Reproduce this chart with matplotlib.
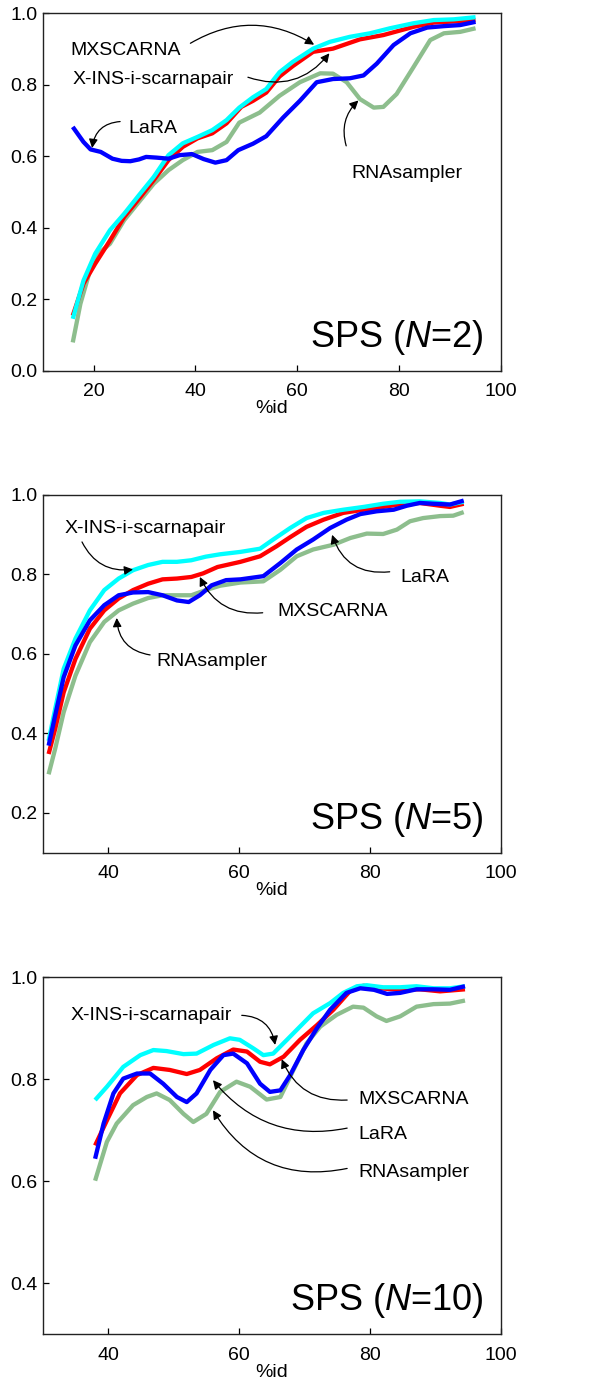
import matplotlib
matplotlib.use("Agg")
import matplotlib.pyplot as plt

plt.rcParams['font.family'] = ['Liberation Sans', 'DejaVu Sans']
plt.rcParams['mathtext.fontset'] = 'custom'
plt.rcParams['mathtext.rm'] = 'Liberation Sans'
plt.rcParams['mathtext.it'] = 'Liberation Sans:italic'

# colours of the four methods
C_XINS = '#00FFFF'
C_MX = '#FF0000'
C_LARA = '#0000FF'
C_RNAS = '#8DBE8D'

# ---- N=2 ----
n2_xins_x = [15.9, 18.0, 20.3, 23.2, 26.0, 28.9, 31.8, 34.7, 37.5, 40.4, 43.3, 46.1, 48.6, 51.3, 53.9, 56.5, 59.1, 63.1, 66.4, 70.3, 74.3, 78.2, 82.8, 86.8, 90.7, 95.0]
n2_xins_y = [.145, .252, .327, .393, .439, .491, .542, .603, .636, .654, .673, .701, .736, .765, .788, .835, .864, .901, .920, .934, .944, .958, .972, .981, .983, .989]
n2_mx_x = [15.9, 18.0, 20.3, 23.2, 26.0, 28.9, 31.8, 34.7, 37.5, 40.4, 43.3, 46.1, 49.0, 51.3, 53.9, 56.5, 59.1, 63.1, 67.0, 72.3, 76.9, 82.8, 86.8, 90.7, 95.0]
n2_mx_y = [.154, .243, .299, .364, .430, .481, .533, .589, .626, .650, .664, .692, .738, .755, .778, .823, .852, .892, .901, .927, .939, .962, .974, .977, .981]
n2_lara_x = [15.9, 18.0, 19.4, 21.4, 23.7, 25.5, 27.2, 28.9, 30.3, 32.4, 34.7, 36.9, 39.3, 41.6, 43.9, 46.1, 48.4, 51.3, 53.9, 57.2, 60.5, 63.8, 67.0, 70.3, 73.0, 75.6, 78.9, 82.2, 85.5, 88.8, 92.0, 95.0]
n2_lara_y = [.682, .640, .619, .612, .593, .587, .586, .591, .598, .596, .593, .603, .606, .592, .582, .589, .617, .635, .656, .708, .755, .807, .816, .818, .826, .859, .911, .944, .960, .964, .967, .976]
n2_rnas_x = [15.9, 17.4, 19.1, 20.9, 23.2, 26.0, 28.9, 31.8, 34.7, 37.5, 40.4, 43.3, 46.1, 48.6, 52.6, 56.5, 60.5, 64.5, 67.0, 69.7, 72.3, 75.0, 76.9, 79.5, 82.8, 86.1, 88.8, 92.0, 95.0]
n2_rnas_y = [.079, .187, .271, .327, .355, .421, .472, .523, .561, .589, .612, .617, .640, .694, .722, .769, .807, .832, .831, .807, .760, .736, .738, .774, .849, .925, .944, .948, .958]

# ---- N=5 ----
n5_xins_x = [30.9, 31.9, 33.2, 35.0, 37.2, 39.4, 41.6, 43.8, 46.1, 48.3, 50.5, 52.7, 54.9, 57.1, 60.2, 63.2, 65.2, 67.8, 70.3, 72.9, 75.9, 79.0, 82.0, 84.6, 87.6, 90.7, 92.2, 94.3]
n5_xins_y = [.381, .461, .562, .638, .709, .760, .789, .810, .823, .831, .831, .835, .844, .850, .856, .864, .887, .916, .941, .954, .962, .969, .977, .982, .983, .979, .975, .982]
n5_mx_x = [30.9, 31.9, 33.2, 35.0, 37.2, 39.4, 41.6, 43.8, 46.1, 48.3, 50.5, 52.7, 54.5, 56.7, 60.2, 63.2, 65.7, 67.8, 70.3, 72.9, 75.9, 79.0, 82.0, 85.1, 87.6, 90.7, 92.2, 94.3]
n5_mx_y = [.348, .411, .503, .587, .663, .709, .739, .760, .776, .787, .789, .793, .802, .818, .831, .845, .870, .893, .919, .937, .954, .962, .969, .977, .979, .972, .969, .977]
n5_lara_x = [30.9, 31.9, 33.2, 35.0, 37.2, 39.4, 41.6, 43.8, 46.1, 48.3, 50.5, 52.3, 54.0, 55.8, 58.0, 60.2, 63.7, 66.3, 68.8, 71.3, 73.9, 76.4, 78.5, 81.0, 83.6, 85.6, 87.6, 89.7, 92.2, 94.3]
n5_lara_y = [.369, .445, .541, .621, .684, .722, .747, .754, .755, .747, .734, .730, .747, .772, .785, .787, .795, .828, .862, .887, .916, .937, .951, .958, .962, .972, .979, .977, .975, .985]
n5_rnas_x = [30.9, 31.9, 33.2, 35.0, 37.2, 39.4, 41.6, 43.8, 46.1, 48.3, 50.5, 52.7, 54.9, 57.1, 60.2, 63.7, 66.3, 68.8, 71.3, 74.4, 77.0, 79.5, 82.0, 84.1, 86.1, 88.1, 90.7, 92.7, 94.3]
n5_rnas_y = [.297, .361, .453, .545, .629, .680, .709, .726, .740, .747, .747, .747, .760, .771, .779, .782, .811, .845, .862, .874, .891, .902, .901, .912, .933, .941, .946, .947, .956]

# ---- N=10 ----
n10_xins_x = [38.0, 39.8, 42.3, 44.9, 46.9, 48.9, 51.5, 53.5, 56.1, 58.6, 60.1, 62.2, 63.7, 65.2, 67.3, 69.3, 71.3, 73.9, 75.9, 78.0, 79.5, 82.0, 84.6, 87.1, 89.7, 92.2, 94.5]
n10_xins_y = [.759, .785, .824, .847, .857, .855, .849, .850, .867, .880, .877, .860, .847, .850, .877, .903, .929, .949, .969, .982, .984, .980, .980, .982, .978, .978, .982]
n10_mx_x = [38.0, 39.8, 41.8, 44.4, 46.9, 49.4, 52.0, 54.0, 56.6, 59.1, 61.2, 63.2, 64.7, 66.8, 69.3, 71.9, 74.4, 76.9, 79.0, 81.5, 84.6, 87.6, 90.7, 94.5]
n10_mx_y = [.670, .719, .772, .808, .822, .818, .810, .818, .841, .858, .854, .834, .829, .844, .877, .906, .936, .972, .983, .978, .975, .976, .972, .976]
n10_lara_x = [38.0, 39.3, 40.8, 42.3, 44.4, 46.4, 48.4, 50.5, 52.0, 53.5, 55.6, 57.6, 59.1, 61.2, 63.2, 64.7, 66.3, 67.8, 69.8, 71.9, 73.9, 76.4, 78.5, 80.6, 82.6, 84.6, 87.1, 89.7, 92.2, 94.5]
n10_lara_y = [.644, .713, .772, .801, .811, .811, .791, .765, .755, .772, .818, .847, .850, .831, .791, .775, .778, .808, .857, .900, .936, .969, .978, .975, .967, .969, .976, .976, .975, .982]
n10_rnas_x = [38.0, 39.8, 41.3, 43.8, 45.9, 47.4, 49.4, 51.5, 53.0, 55.0, 57.1, 59.6, 61.7, 64.2, 66.3, 68.3, 70.3, 72.4, 74.9, 77.4, 79.0, 81.0, 82.5, 84.6, 87.1, 89.7, 92.2, 94.5]
n10_rnas_y = [.601, .677, .713, .749, .765, .772, .759, .732, .716, .732, .775, .795, .785, .760, .765, .818, .870, .903, .926, .942, .940, .923, .914, .923, .942, .947, .948, .954]


def style_axes(ax, xlim, ylim, xticks, yticks):
    ax.set_xlim(*xlim)
    ax.set_ylim(*ylim)
    ax.set_xticks(xticks)
    ax.set_yticks(yticks)
    ax.set_xticklabels([str(t) for t in xticks])
    ax.set_yticklabels(['%.1f' % t for t in yticks])
    ax.tick_params(direction='in', length=4, width=0.9, top=False, right=False, labelsize=14)
    ax.tick_params(axis='x', pad=9)
    ax.tick_params(axis='y', pad=4)
    for s in ax.spines.values():
        s.set_linewidth(1.0)
        s.set_color('#222222')
    ax.set_xlabel('%id', fontsize=14, labelpad=0)


def draw_lines(ax, xins, mx, lara, rnas):
    # green at the back, blue on top
    kw = dict(lw=3.1, solid_capstyle='butt', solid_joinstyle='round')
    ax.plot(rnas[0], rnas[1], color=C_RNAS, **kw)
    ax.plot(mx[0], mx[1], color=C_MX, **kw)
    ax.plot(xins[0], xins[1], color=C_XINS, **kw)
    ax.plot(lara[0], lara[1], color=C_LARA, **kw)


def label(ax, text, pos, start, tip, rad):
    ax.text(pos[0], pos[1], text, fontsize=14, ha='left', va='baseline')
    ax.annotate('', xy=tip, xytext=start,
                arrowprops=dict(arrowstyle='-|>', color='black', lw=0.9, mutation_scale=13,
                                shrinkA=0, shrinkB=0, connectionstyle='arc3,rad=%s' % rad))


def panel_tag(ax, n):
    ax.text(0.961, 0.067, r'SPS ($N$=%d)' % n, transform=ax.transAxes,
            fontsize=26, ha='right', va='baseline')


def main():
    fig = plt.figure(figsize=(6, 13.96), dpi=100)
    ax1 = fig.add_axes([0.0712, 0.7345, 0.7638, 0.2560])
    ax2 = fig.add_axes([0.0712, 0.3892, 0.7638, 0.2565])
    ax3 = fig.add_axes([0.0712, 0.0442, 0.7638, 0.2559])

    # N=2
    draw_lines(ax1, (n2_xins_x, n2_xins_y), (n2_mx_x, n2_mx_y), (n2_lara_x, n2_lara_y), (n2_rnas_x, n2_rnas_y))
    style_axes(ax1, (10, 100), (0, 1.0), [20, 40, 60, 80, 100], [0.0, 0.2, 0.4, 0.6, 0.8, 1.0])
    label(ax1, 'MXSCARNA', (15.4, 0.883), (39.0, 0.916), (63.3, 0.912), -0.3)
    label(ax1, 'X-INS-i-scarnapair', (15.8, 0.803), (50.3, 0.821), (66.3, 0.888), 0.35)
    label(ax1, 'LaRA', (26.8, 0.666), (25.2, 0.697), (19.7, 0.623), 0.4)
    label(ax1, 'RNAsampler', (70.6, 0.540), (69.6, 0.629), (72.0, 0.756), -0.3)
    panel_tag(ax1, 2)

    # N=5
    draw_lines(ax2, (n5_xins_x, n5_xins_y), (n5_mx_x, n5_mx_y), (n5_lara_x, n5_lara_y), (n5_rnas_x, n5_rnas_y))
    style_axes(ax2, (30, 100), (0.1, 1.0), [40, 60, 80, 100], [0.2, 0.4, 0.6, 0.8, 1.0])
    label(ax2, 'X-INS-i-scarnapair', (33.4, 0.903), (36.0, 0.881), (43.8, 0.812), 0.35)
    label(ax2, 'MXSCARNA', (65.8, 0.694), (63.6, 0.703), (54.0, 0.793), -0.35)
    label(ax2, 'LaRA', (84.6, 0.781), (83.0, 0.806), (74.2, 0.899), -0.4)
    label(ax2, 'RNAsampler', (47.4, 0.570), (46.4, 0.597), (41.3, 0.690), -0.4)
    panel_tag(ax2, 5)

    # N=10
    draw_lines(ax3, (n10_xins_x, n10_xins_y), (n10_mx_x, n10_mx_y), (n10_lara_x, n10_lara_y), (n10_rnas_x, n10_rnas_y))
    style_axes(ax3, (30, 100), (0.3, 1.0), [40, 60, 80, 100], [0.4, 0.6, 0.8, 1.0])
    label(ax3, 'X-INS-i-scarnapair', (34.2, 0.916), (60.4, 0.925), (65.5, 0.867), -0.4)
    label(ax3, 'MXSCARNA', (78.2, 0.752), (76.5, 0.759), (66.5, 0.839), -0.35)
    label(ax3, 'LaRA', (78.2, 0.683), (76.5, 0.704), (56.0, 0.798), -0.3)
    label(ax3, 'RNAsampler', (78.2, 0.608), (76.5, 0.625), (56.0, 0.739), -0.35)
    panel_tag(ax3, 10)

    fig.savefig('out.png', dpi=100)
    plt.close()


if __name__ == "__main__":
    main()
